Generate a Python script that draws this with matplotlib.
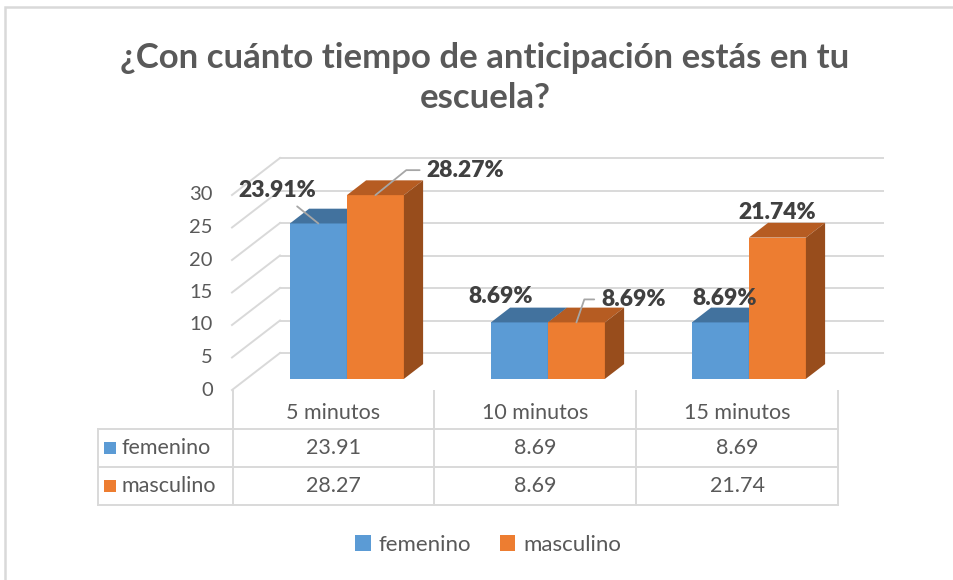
"""
Gráfica de columnas 3D (estilo Excel) con tabla de datos:
tiempo de anticipación con el que llegan a la escuela.
"""
import matplotlib
matplotlib.use("Agg")  # backend sin ventana
import matplotlib.pyplot as plt
from matplotlib.patches import Polygon, Rectangle, Patch

categorias = ["5 minutos", "10 minutos", "15 minutos"]
series = ["femenino", "masculino"]
femenino = [23.91, 8.69, 8.69]
masculino = [28.27, 8.69, 21.74]
marcas_y = [0, 5, 10, 15, 20, 25, 30]
titulo = "¿Con cuánto tiempo de anticipación estás en tu\nescuela?"

colores = {
    "femenino": ("#5B9BD5", "#42729E", "#3A6690"),
    "masculino": ("#ED7D31", "#B65C22", "#984D1C"),
}
GRIS_LINEA = "#d9d9d9"
GRIS_TEXTO = "#595959"

W, H = 954, 580
plt.rcParams["font.family"] = ["Lato", "DejaVu Sans"]
fig = plt.figure(figsize=(W / 100, H / 100), dpi=100)


def caja(x0, y0, x1, y1):
    """Convierte un rectángulo en píxeles (origen arriba-izquierda) a fracción de figura."""
    return [x0 / W, 1 - y1 / H, (x1 - x0) / W, (y1 - y0) / H]


# ---- área del gráfico 3D ----
PX_CAT = 201.0   # píxeles por categoría
PX_VAL = 6.5     # píxeles por unidad
ax = fig.add_axes(caja(232, 150, 886, 390))
ax.set_xlim(-0.5, -0.5 + 654 / PX_CAT)
ax.set_ylim(0, 240 / PX_VAL)
ax.axis("off")

prof_x = 48 / PX_CAT   # profundidad de la pared del fondo
prof_y = 37 / PX_VAL
n = len(categorias)

# pared del fondo y pared lateral
for v in marcas_y:
    ax.plot([-0.5 + prof_x, n - 0.5 + prof_x], [v + prof_y, v + prof_y],
            color=GRIS_LINEA, lw=1.4, zorder=1, clip_on=False)
    ax.plot([-0.5, -0.5 + prof_x], [v, v + prof_y],
            color=GRIS_LINEA, lw=1.4, zorder=1, clip_on=False)
    ax.annotate(str(v), (-0.5, v), xytext=(-19, 0), textcoords="offset pixels",
                ha="right", va="center", fontsize=14.5, color=GRIS_TEXTO)

# columnas
ancho = 57 / PX_CAT
ox, oy = 0.3 * prof_x, 0.3 * prof_y      # plano frontal de las columnas
bx, by = 0.4 * prof_x, 0.4 * prof_y      # profundidad de cada columna

# desplazamientos de las etiquetas (px) y ángulo de la línea guía
etiquetas = {
    "femenino": [((-41, 33), "recta"), ((-19, 26), None), ((4, 24), None)],
    "masculino": [((90, 25), 39), ((57, 23), 71), ((0, 25), None)],
}

for k, (nombre, valores) in enumerate(zip(series, [femenino, masculino])):
    frente, arriba, lado = colores[nombre]
    z = 2 + k
    centros = [i + ox + (k - 0.5) * ancho for i in range(n)]
    ax.bar(centros, valores, width=ancho, bottom=oy, color=frente, lw=0, zorder=z)
    for i, (c, v) in enumerate(zip(centros, valores)):
        x0, x1 = c - ancho / 2, c + ancho / 2
        tope = oy + v
        ax.add_patch(Polygon([(x0, tope), (x1, tope), (x1 + bx, tope + by), (x0 + bx, tope + by)],
                             closed=True, fc=arriba, lw=0, zorder=z))
        ax.add_patch(Polygon([(x1, oy), (x1 + bx, oy + by), (x1 + bx, tope + by), (x1, tope)],
                             closed=True, fc=lado, lw=0, zorder=z))

        desp, guia = etiquetas[nombre][i]
        props = None
        if guia == "recta":
            props = dict(arrowstyle="-", color="#a6a6a6", lw=1.3, shrinkA=3, shrinkB=0)
        elif guia is not None:
            props = dict(arrowstyle="-", color="#a6a6a6", lw=1.3, shrinkA=3, shrinkB=0,
                         connectionstyle=f"angle,angleA=0,angleB={guia},rad=0")
        ax.annotate(f"{v:.2f}%", (c, tope), xytext=desp, textcoords="offset pixels",
                    ha="center", va="center", fontsize=16.5, fontweight="heavy",
                    color="#404040", arrowprops=props, zorder=6)

# ---- tabla de datos ----
izq = -0.5 - 134 / PX_CAT
tabla = fig.add_axes(caja(98, 391, 838, 505))
tabla.set_xlim(izq, n - 0.5)
tabla.set_ylim(0, 3)
tabla.axis("off")

for x in [i - 0.5 for i in range(n + 1)]:
    tabla.plot([x, x], [0, 3], color=GRIS_LINEA, lw=1.4, clip_on=False)
tabla.plot([izq, izq], [0, 2], color=GRIS_LINEA, lw=1.4, clip_on=False)
for y in [0, 1, 2]:
    tabla.plot([izq, n - 0.5], [y, y], color=GRIS_LINEA, lw=1.4, clip_on=False)

for i, cat in enumerate(categorias):
    tabla.text(i, 2.42, cat, ha="center", va="center", fontsize=15.5, color=GRIS_TEXTO)

for fila, (nombre, valores) in zip([1.5, 0.5], zip(series, [femenino, masculino])):
    tabla.add_patch(Rectangle((izq + 6 / PX_CAT, fila - 6 / 38), 12 / PX_CAT, 12 / 38,
                              fc=colores[nombre][0], lw=0))
    tabla.text(izq + 23 / PX_CAT, fila, nombre, ha="left", va="center",
               fontsize=15.5, color=GRIS_TEXTO)
    for i, v in enumerate(valores):
        tabla.text(i, fila, f"{v:.2f}", ha="center", va="center",
                   fontsize=15.5, color=GRIS_TEXTO)

# ---- título, leyenda y borde ----
fig.text(485 / W, 1 - 78 / H, titulo, ha="center", va="center", fontsize=25,
         fontweight="bold", color=GRIS_TEXTO, linespacing=1.3)

manijas = [Patch(fc=colores[s][0], lw=0) for s in series]
fig.legend(manijas, series, loc="center", bbox_to_anchor=(488 / W, 1 - 545 / H),
           ncol=2, frameon=False, fontsize=16, handlelength=0.7, handleheight=0.7,
           handletextpad=0.35, columnspacing=1.3, labelcolor=GRIS_TEXTO)

fig.patches.append(Rectangle((5 / W, -0.1), 1.2, 1 - 7 / H + 0.1, transform=fig.transFigure,
                             fill=False, ec=GRIS_LINEA, lw=1.8))

fig.savefig("out.png", dpi=100, facecolor="white")
plt.close(fig)
